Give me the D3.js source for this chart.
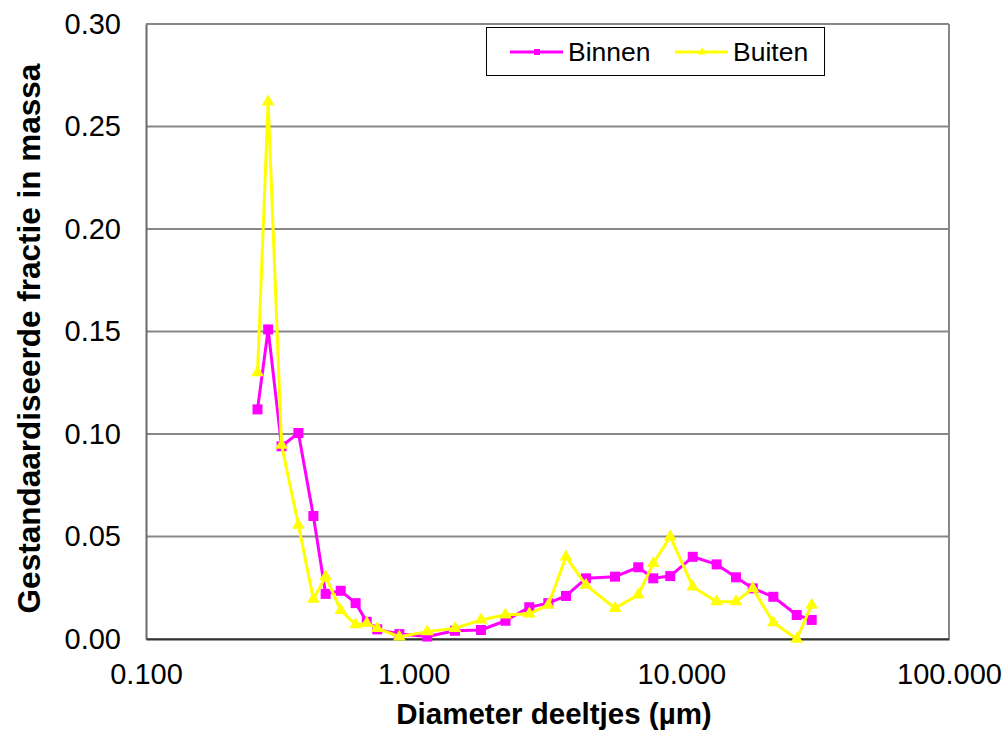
<!DOCTYPE html>
<html>
<head>
<meta charset="utf-8">
<script src="https://cdn.jsdelivr.net/npm/d3@7"></script>
<style>
  body { margin: 0; background: #fff; }
  svg { font-family: "Liberation Sans", Arial, sans-serif; }
</style>
</head>
<body>
<script>
// particle diameters (µm), shared by both series
const diameters = [0.261, 0.286, 0.321, 0.371, 0.422, 0.469, 0.534, 0.607, 0.668, 0.731,
    0.884, 1.124, 1.427, 1.784, 2.203, 2.704, 3.184, 3.707, 4.403, 5.653,
    6.904, 7.854, 9.09, 11.03, 13.55, 16.0, 18.48, 22.06, 26.98, 30.69];

const binnen = [0.112, 0.151, 0.094, 0.1005, 0.060, 0.022, 0.0235, 0.0175, 0.0084, 0.0047,
    0.0024, 0.0012, 0.0040, 0.0044, 0.0089, 0.0155, 0.0175, 0.0210, 0.0296, 0.0304,
    0.0350, 0.0296, 0.0307, 0.0401, 0.0364, 0.0301, 0.0247, 0.0206, 0.0117, 0.0093];

const buiten = [0.130, 0.262, 0.0946, 0.0556, 0.0195, 0.0304, 0.0140, 0.0070, 0.0077, 0.0052,
    0.0011, 0.0036, 0.0052, 0.0093, 0.0118, 0.0123, 0.0166, 0.0401, 0.0263, 0.0150,
    0.0215, 0.0369, 0.0499, 0.0255, 0.0182, 0.0182, 0.0247, 0.0080, 0.0000, 0.0166];

const xTicks = [0.1, 1, 10, 100];
const yTicks = [0, 0.05, 0.10, 0.15, 0.20, 0.25, 0.30];

const series = [
    { name: 'Binnen', values: binnen, color: '#ff00ff', symbol: d3.symbolSquare, size: 100, legendSize: 36 },
    { name: 'Buiten', values: buiten, color: '#ffff00', symbol: d3.symbolTriangle, size: 70, legendSize: 30 }
];

const width = 1005, height = 733;
const plot = { left: 146, right: 949, top: 24, bottom: 639 };

const x = d3.scaleLog().domain([0.1, 100]).range([plot.left, plot.right]);
const y = d3.scaleLinear().domain([0, 0.3]).range([plot.bottom, plot.top]);

const svg = d3.select('body').append('svg')
    .attr('width', width)
    .attr('height', height);

// gridlines
svg.append('g')
    .selectAll('line')
    .data(yTicks)
    .join('line')
    .attr('x1', plot.left).attr('x2', plot.right)
    .attr('y1', d => y(d)).attr('y2', d => y(d))
    .attr('stroke', '#878787')
    .attr('stroke-width', 2);

// right border of the plot area
svg.append('line')
    .attr('x1', plot.right).attr('x2', plot.right)
    .attr('y1', plot.top).attr('y2', plot.bottom)
    .attr('stroke', '#878787')
    .attr('stroke-width', 2);

// axes
const yAxis = svg.append('g')
    .attr('transform', `translate(${plot.left},0)`)
    .call(d3.axisLeft(y).tickValues(yTicks).tickFormat(d3.format('.2f')).tickSize(0).tickPadding(25));

const xAxis = svg.append('g')
    .attr('transform', `translate(0,${plot.bottom})`)
    .call(d3.axisBottom(x).tickValues(xTicks).tickFormat(d3.format('.3f')).tickSize(0).tickPadding(24));

yAxis.select('.domain').attr('stroke', '#6a6a6a').attr('stroke-width', 2);
xAxis.select('.domain').attr('stroke', '#333').attr('stroke-width', 2);
svg.selectAll('.tick text')
    .attr('fill', '#000')
    .style('font-size', '29px')
    .style('font-family', '"Liberation Sans", Arial, sans-serif');

// axis titles
svg.append('text')
    .attr('x', 554)
    .attr('y', 724)
    .attr('text-anchor', 'middle')
    .style('font-size', '29.5px')
    .style('font-weight', 'bold')
    .text('Diameter deeltjes (µm)');

svg.append('text')
    .attr('transform', `translate(40,${(plot.top + plot.bottom) / 2 + 7}) rotate(-90)`)
    .attr('text-anchor', 'middle')
    .style('font-size', '31.5px')
    .style('font-weight', 'bold')
    .text('Gestandaardiseerde fractie in massa');

// series
const line = d3.line()
    .x(d => x(d[0]))
    .y(d => y(d[1]));

series.forEach(s => {
    const pts = diameters.map((d, i) => [d, s.values[i]]);
    const g = svg.append('g');
    g.append('path')
        .datum(pts)
        .attr('d', line)
        .attr('fill', 'none')
        .attr('stroke', s.color)
        .attr('stroke-width', 3)
        .attr('stroke-linejoin', 'round');
    g.selectAll('path.marker')
        .data(pts)
        .join('path')
        .attr('class', 'marker')
        .attr('transform', d => `translate(${x(d[0])},${y(d[1])})`)
        .attr('d', d3.symbol().type(s.symbol).size(s.size))
        .attr('fill', s.color);
});

// legend
const legend = svg.append('g');
legend.append('rect')
    .attr('x', 486.5).attr('y', 27.5)
    .attr('width', 338).attr('height', 48)
    .attr('fill', '#fff')
    .attr('stroke', '#000')
    .attr('stroke-width', 1);

const legendX = [510, 675];
series.forEach((s, i) => {
    const lg = legend.append('g').attr('transform', `translate(${legendX[i]},52)`);
    lg.append('line')
        .attr('x1', 0).attr('x2', 53)
        .attr('stroke', s.color)
        .attr('stroke-width', 3);
    lg.append('path')
        .attr('transform', 'translate(27,0)')
        .attr('d', d3.symbol().type(s.symbol).size(s.legendSize))
        .attr('fill', s.color);
    lg.append('text')
        .attr('x', 58)
        .attr('dy', '0.35em')
        .style('font-size', '26.5px')
        .text(s.name);
});
</script>
</body>
</html>
